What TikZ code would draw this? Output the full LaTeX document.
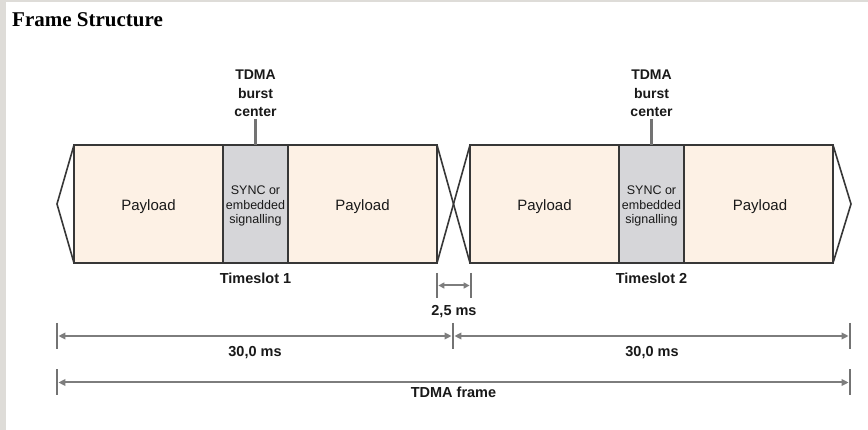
\documentclass[tikz,border=0pt]{standalone}
\usepackage{fontspec}
\setmainfont{Liberation Serif}
\newfontfamily\arialf{Liberation Sans}
\usetikzlibrary{arrows.meta}
\definecolor{peach}{RGB}{253,241,229}
\definecolor{syncgray}{RGB}{214,214,217}
\definecolor{edgecol}{RGB}{55,55,55}
\definecolor{dimcol}{RGB}{125,125,125}
\definecolor{tickcol}{RGB}{115,115,115}
\definecolor{txt}{RGB}{25,25,25}
\definecolor{stripcol}{RGB}{222,220,216}
\begin{document}
\begin{tikzpicture}[x=1pt,y=-1pt,
  box/.style={draw=edgecol, line width=1.6pt, minimum height=118pt, inner sep=0pt, outer sep=0pt, anchor=north west},
  paybox/.style={box, fill=peach, minimum width=149pt},
  syncbox/.style={box, fill=syncgray, minimum width=65pt},
  edgeline/.style={draw=edgecol, line width=1.6pt, line join=miter},
  paytext/.style={font=\arialf\fontsize{15}{18}\selectfont, text=txt, inner sep=0pt, anchor=base},
  synctext/.style={font=\arialf\fontsize{12.5}{14.5}\selectfont, text=txt, inner sep=0pt, align=center},
  boldlbl/.style={font=\arialf\bfseries\fontsize{14.5}{18.5}\selectfont, text=txt, inner sep=0pt, anchor=base},
  burstlbl/.style={font=\arialf\bfseries\fontsize{14}{18.5}\selectfont, text=txt, inner sep=0pt, outer sep=2pt, align=center},
  burstline/.style={draw=tickcol, line width=2.2pt},
  tickline/.style={draw=tickcol, line width=2.8pt},
  dimline/.style={draw=dimcol, line width=2pt, {Triangle[length=7pt,width=6.5pt]}-{Triangle[length=7pt,width=6.5pt]}, shorten <=1.4pt, shorten >=1.4pt},
]
\useasboundingbox (0,0) rectangle (868,430);
\fill[white] (0,0) rectangle (868,430);
\fill[stripcol] (0,0) rectangle (6,430);
\fill[stripcol] (0,0) rectangle (868,2);

% title
\node[anchor=base west, inner sep=0pt, font=\bfseries\fontsize{21}{25}\selectfont, text=black] (title) at (12,27) {Frame Structure};

% frame 1
\node[paybox] (p1a) at (74,145) {};
\node[syncbox] (s1) at (p1a.north east) {};
\node[paybox] (p1b) at (s1.north east) {};
% frame 2
\node[paybox] (p2a) at (470,145) {};
\node[syncbox] (s2) at (p2a.north east) {};
\node[paybox] (p2b) at (s2.north east) {};

% tips and cross
\coordinate (tipL) at (57,204);
\coordinate (tipR) at (851,204);
\draw[edgeline] (p1a.north west) -- (tipL) -- (p1a.south west);
\draw[edgeline] (p2b.north east) -- (tipR) -- (p2b.south east);
\draw[edgeline] (p1b.north east) -- (p2a.south west);
\draw[edgeline] (p1b.south east) -- (p2a.north west);

% texts in boxes
\node[paytext] (tp1a) at (148.5,211) {Payload};
\node[paytext] (tp1b) at (362.5,211) {Payload};
\node[paytext] (tp2a) at (544.5,211) {Payload};
\node[paytext] (tp2b) at (760,211) {Payload};
\node[synctext] (ts1) at (255.5,206) {SYNC or\\embedded\\signalling};
\node[synctext] (ts2) at (651.5,206) {SYNC or\\embedded\\signalling};

% burst centers
\node[burstlbl] (b1) at (255.5,93.5) {TDMA\\burst\\center};
\node[burstlbl] (b2) at (651.5,93.5) {TDMA\\burst\\center};
\draw[burstline] (b1.south) -- (s1.north);
\draw[burstline] (b2.south) -- (s2.north);

% timeslot labels
\node[boldlbl] (ts1l) at (255.5,284) {Timeslot 1};
\node[boldlbl] (ts2l) at (651.5,284) {Timeslot 2};

% 2,5 ms guard
\coordinate (gA) at (437,285.5);
\coordinate (gB) at (471,285.5);
\draw[tickline] ([yshift=12.5pt]gA) -- ([yshift=-12.5pt]gA);
\draw[tickline] ([yshift=12.5pt]gB) -- ([yshift=-12.5pt]gB);
\draw[dimline, {Triangle[length=6pt,width=6pt]}-{Triangle[length=6pt,width=6pt]}] (gA) -- (gB);
\node[boldlbl] (gl) at (454,316) {2,5 ms};

% 30 ms lines
\coordinate (dA) at (57,336);
\coordinate (dB) at (453,336);
\coordinate (dC) at (850,336);
\draw[tickline] ([yshift=13pt]dA) -- ([yshift=-13pt]dA);
\draw[tickline] ([yshift=13pt]dB) -- ([yshift=-13pt]dB);
\draw[tickline] ([yshift=13pt]dC) -- ([yshift=-13pt]dC);
\draw[dimline] (dA) -- (dB);
\draw[dimline] (dB) -- (dC);
\node[boldlbl] (l30a) at (255,357) {30,0 ms};
\node[boldlbl] (l30b) at (652,357) {30,0 ms};

% TDMA frame
\coordinate (fA) at (57,382.5);
\coordinate (fC) at (850,382.5);
\draw[tickline] ([yshift=13pt]fA) -- ([yshift=-13pt]fA);
\draw[tickline] ([yshift=13pt]fC) -- ([yshift=-13pt]fC);
\draw[dimline] (fA) -- (fC);
\node[boldlbl] (lf) at (453.5,398) {TDMA frame};
\end{tikzpicture}
\end{document}
